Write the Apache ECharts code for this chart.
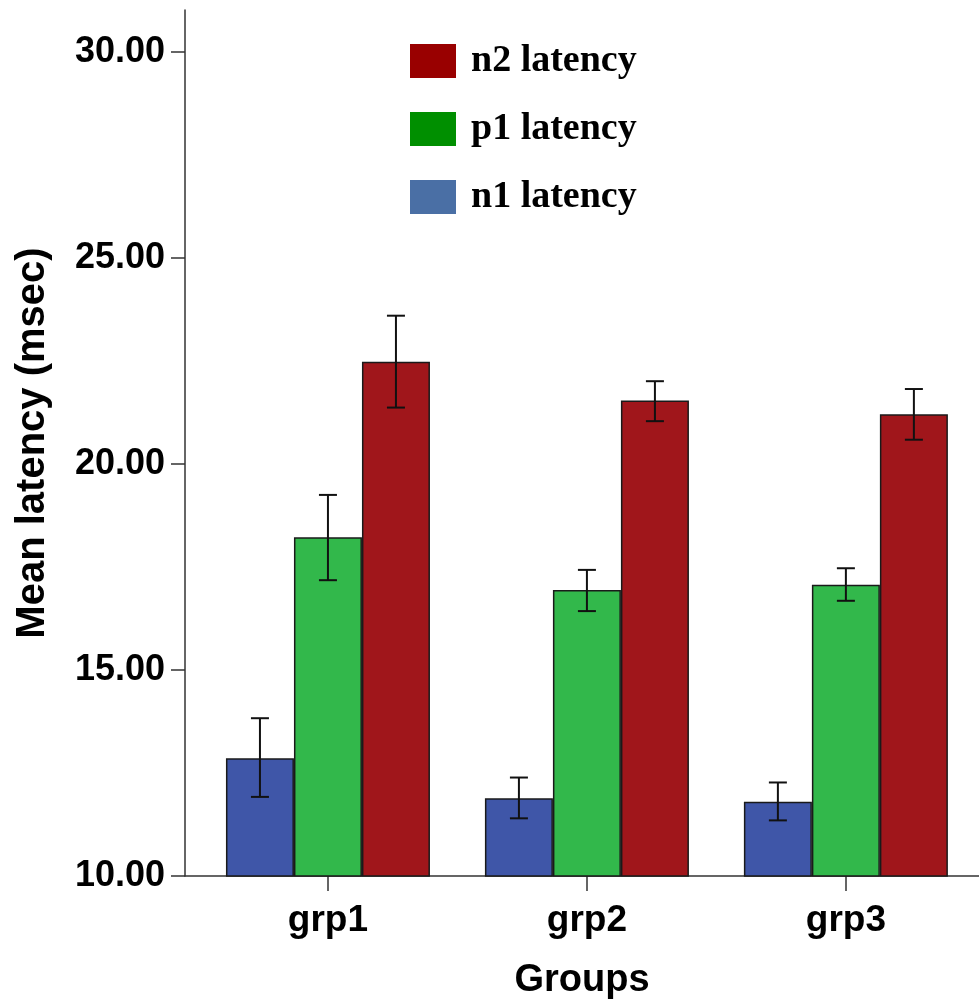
<!DOCTYPE html>
<html>
<head>
  <meta charset="utf-8">
  <title>Mean latency by group</title>
  <style>
    html, body { margin: 0; padding: 0; background: #fff; }
    #chart { width: 979px; height: 1000px; }
  </style>
</head>
<body>
  <div id="chart"></div>
  <script src="https://cdn.jsdelivr.net/npm/echarts@6/dist/echarts.min.js"></script>
  <script>
  // values
  const groups = ['grp1', 'grp2', 'grp3'];
  const yTicks = [10, 15, 20, 25, 30];

  const n1Mean = [12.86, 11.89, 11.80];
  const n1Low  = [11.92, 11.40, 11.35];
  const n1High = [13.83, 12.39, 12.27];

  const p1Mean = [18.22, 16.94, 17.07];
  const p1Low  = [17.18, 16.43, 16.68];
  const p1High = [19.25, 17.43, 17.47];

  const n2Mean = [22.48, 21.54, 21.21];
  const n2Low  = [21.37, 21.04, 20.59];
  const n2High = [23.60, 22.01, 21.82];

  const barW = 68;
  const font = '"Liberation Sans", Arial, sans-serif';

  const barSeries = (name, mean, color) => ({
    name: name,
    type: 'bar',
    barWidth: barW,
    barGap: '0%',
    data: mean.map((v, i) => [i, v]),
    itemStyle: { color: color, borderColor: '#1a1a1a', borderWidth: 1.5 }
  });

  const errSeries = (low, high, offset) => ({
    type: 'custom',
    z: 10,
    silent: true,
    data: low.map((v, i) => [i, v, high[i]]),
    renderItem: (params, api) => {
      const lo = api.coord([api.value(0), api.value(1)]);
      const hi = api.coord([api.value(0), api.value(2)]);
      const x = lo[0] + offset;
      const cap = 9;
      const st = { stroke: '#111', lineWidth: 2 };
      return {
        type: 'group',
        children: [
          { type: 'line', shape: { x1: x, y1: lo[1], x2: x, y2: hi[1] }, style: st },
          { type: 'line', shape: { x1: x - cap, y1: lo[1], x2: x + cap, y2: lo[1] }, style: st },
          { type: 'line', shape: { x1: x - cap, y1: hi[1], x2: x + cap, y2: hi[1] }, style: st }
        ]
      };
    }
  });

  const chart = echarts.init(document.getElementById('chart'));
  chart.setOption({
    animation: false,
    grid: { left: 185, right: 0, top: 10, bottom: 124, outerBoundsMode: 'none' },
    legend: {
      orient: 'vertical',
      left: 405,
      top: 37,
      icon: 'rect',
      itemWidth: 46,
      itemHeight: 34,
      itemGap: 30,
      textStyle: {
        fontFamily: '"Liberation Serif", "Times New Roman", serif',
        fontWeight: 'bold',
        fontSize: 38,
        color: '#000',
        lineHeight: 34,
        padding: [4, 0, 0, 10]
      },
      data: [
        { name: 'n2 latency', itemStyle: { color: '#990000', borderWidth: 0 } },
        { name: 'p1 latency', itemStyle: { color: '#008f00', borderWidth: 0 } },
        { name: 'n1 latency', itemStyle: { color: '#4a6fa5', borderWidth: 0 } }
      ]
    },
    xAxis: {
      type: 'value',
      min: -0.552,
      max: 2.514,
      name: 'Groups',
      nameLocation: 'middle',
      nameGap: 86,
      nameTextStyle: { fontFamily: font, fontWeight: 'bold', fontSize: 38, color: '#000' },
      splitLine: { show: false },
      axisLine: { show: true, onZero: false, lineStyle: { color: '#333', width: 1.5 } },
      axisTick: { show: true, length: 15, customValues: [0, 1, 2], lineStyle: { color: '#333', width: 1.5 } },
      axisLabel: {
        customValues: [0, 1, 2],
        formatter: v => groups[v],
        margin: 26,
        fontFamily: font, fontWeight: 'bold', fontSize: 37, color: '#000'
      }
    },
    yAxis: {
      type: 'value',
      min: 10,
      max: 31.02,
      name: 'Mean latency (msec)',
      nameLocation: 'middle',
      nameGap: 132,
      nameTextStyle: { fontFamily: font, fontWeight: 'bold', fontSize: 40, color: '#000' },
      splitLine: { show: false },
      axisLine: { show: true, onZero: false, lineStyle: { color: '#333', width: 1.5 } },
      axisTick: { show: true, length: 14, customValues: yTicks, lineStyle: { color: '#333', width: 1.5 } },
      axisLabel: {
        customValues: yTicks,
        formatter: v => v.toFixed(2),
        margin: 20,
        fontFamily: font, fontWeight: 'bold', fontSize: 36, color: '#000'
      }
    },
    series: [
      barSeries('n1 latency', n1Mean, '#3f56a8'),
      barSeries('p1 latency', p1Mean, '#32b84b'),
      barSeries('n2 latency', n2Mean, '#a0161b'),
      errSeries(n1Low, n1High, -barW),
      errSeries(p1Low, p1High, 0),
      errSeries(n2Low, n2High, barW)
    ]
  });
  </script>
</body>
</html>
